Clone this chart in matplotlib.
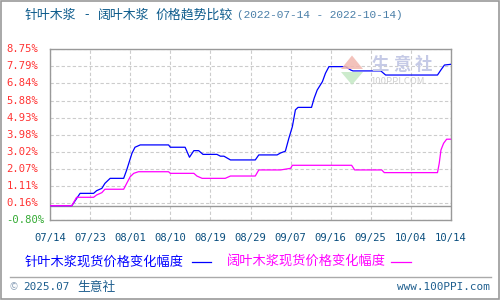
import matplotlib
matplotlib.use("Agg")
import matplotlib.pyplot as plt
from matplotlib.patches import Polygon, Rectangle

plt.rcParams['font.family'] = ['Noto Sans CJK SC', 'DejaVu Sans']

# Days since 2022-07-14 and percent change of spot price
needle_days = [0, 5, 6.9, 10, 10.7, 11.9, 12.6, 13.8, 16.9, 17.6, 18.8, 19.5, 20.7,
               27.2, 27.6, 31, 32, 33, 34.1, 35.1, 38.3, 39.1, 39.9, 41.4, 47.1,
               47.9, 52.1, 52.9, 54, 54.8, 55.6, 56.3, 56.9, 60, 60.6, 61.3, 62.5,
               63.2, 64, 67.8, 69, 69.5, 75.9, 77, 88.9, 89.7, 90.5, 92]
needle_vals = [0, 0, 0.69, 0.69, 0.84, 0.97, 1.25, 1.53, 1.53, 2.0, 2.93, 3.27, 3.40,
               3.40, 3.27, 3.27, 2.71, 3.08, 3.08, 2.87, 2.87, 2.77, 2.77, 2.56, 2.56,
               2.84, 2.84, 2.95, 3.05, 3.77, 4.42, 5.36, 5.50, 5.50, 6.01, 6.47, 6.94,
               7.41, 7.78, 7.78, 7.59, 7.54, 7.54, 7.31, 7.31, 7.60, 7.87, 7.91]

broad_days = [0, 5, 6.1, 10, 10.7, 11.9, 12.6, 16.9, 17.6, 18.4, 19.2, 20.3, 27.2,
              27.6, 33, 33.7, 34.9, 40.2, 41.4, 47.1, 47.9, 52.9, 55.2, 55.6, 69.2,
              69.9, 76.1, 76.7, 88.9, 89.3, 89.7, 90.3, 91, 92]
broad_vals = [0, 0, 0.47, 0.47, 0.60, 0.73, 0.92, 0.92, 1.25, 1.62, 1.81, 1.90, 1.90,
              1.81, 1.81, 1.66, 1.53, 1.53, 1.66, 1.66, 2.00, 2.00, 2.09, 2.26, 2.26,
              2.00, 2.00, 1.85, 1.85, 2.37, 3.12, 3.49, 3.72, 3.72]

y_ticks = [-0.80, 0.16, 1.11, 2.07, 3.02, 3.98, 4.93, 5.88, 6.84, 7.79, 8.75]
x_labels = ['07/14', '07/23', '08/01', '08/10', '08/19', '08/29',
            '09/07', '09/16', '09/25', '10/04', '10/14']

fig = plt.figure(figsize=(5, 3), dpi=100)
ax = fig.add_axes([0.100, 0.2667, 0.802, 0.5690])

ax.plot(needle_days, needle_vals, color='#0000ff', lw=0.9, zorder=3)
ax.plot(broad_days, broad_vals, color='#ff00ff', lw=0.9, zorder=3)
ax.axhline(0, color='#999999', lw=1.0, zorder=2)

ax.set_xlim(0, 92)
ax.set_ylim(-0.80, 8.75)
x_ticks = [92 * i / 10 for i in range(11)]
ax.set_xticks(x_ticks)
ax.set_xticklabels([])
ax.set_yticks(y_ticks)
ax.set_yticklabels([])
ax.tick_params(length=0)
ax.grid(True, color='#cccccc', ls=(0, (3, 2)), lw=0.8)
for s in ax.spines.values():
    s.set_color('#999999')
    s.set_linewidth(1.0)

# y tick labels, left-aligned near the edge
for v in y_ticks:
    c = '#33aa33' if v < 0 else '#ff3333'
    ax.text(-0.0875 / 0.802, v, f'{v:.2f}%', transform=ax.get_yaxis_transform(),
            ha='left', va='center', fontsize=7.6, color=c, family='DejaVu Sans Mono')

for xt, lab in zip(x_ticks, x_labels):
    ax.text(xt, -0.8 - 1.0, lab, ha='center', va='center', fontsize=7.6,
            color='#0b4f7f', family='DejaVu Sans Mono', clip_on=False)

# title
title_color = '#0d5b8c'
fig.text(0.050, 0.950, '针叶木浆', fontsize=9.3, color=title_color, va='center')
fig.text(0.168, 0.950, '-', fontsize=9.3, color=title_color, va='center')
fig.text(0.196, 0.950, '阔叶木浆', fontsize=9.3, color=title_color, va='center')
fig.text(0.311, 0.950, '价格趋势比较', fontsize=9.3, color=title_color, va='center')
fig.text(0.474, 0.950, '(2022-07-14 - 2022-10-14)', fontsize=8.0,
         color='#4a7fa8', va='center', ha='left', family='Liberation Mono')

# legend
fig.text(0.05, 0.127, '针叶木浆现货价格变化幅度', fontsize=9.5,
         color='#0000ff', va='center', ha='left')
fig.add_artist(plt.Line2D([0.384, 0.422], [0.127, 0.127], color='#0000ff', lw=0.9))
fig.text(0.454, 0.127, '阔叶木浆现货价格变化幅度', fontsize=9.5,
         color='#ff00ff', va='center', ha='left')
fig.add_artist(plt.Line2D([0.782, 0.822], [0.127, 0.127], color='#ff00ff', lw=0.9))

# footer
fig.add_artist(plt.Line2D([0.02, 0.982], [0.078, 0.078], color='#aaaaaa', lw=1.0))
fig.text(0.02, 0.043, '©', fontsize=7.0, color='#8aa0b8', va='center', ha='left')
fig.text(0.046, 0.043, '2025.07', fontsize=7.9, color='#1f5f8f',
         va='center', ha='left', family='DejaVu Sans Mono')
fig.text(0.154, 0.043, '生意社', fontsize=9.2, color='#1f5f8f',
         va='center', ha='left')
fig.text(0.980, 0.043, 'www.100PPI.com', fontsize=7.9, color='#1f5f8f',
         va='center', ha='right', family='DejaVu Sans Mono')

# watermark
fig.add_artist(Polygon([[0.682, 0.770], [0.704, 0.815], [0.726, 0.770]],
                       closed=True, color='#f2b8b0', alpha=0.85, lw=0))
fig.add_artist(Polygon([[0.682, 0.760], [0.704, 0.717], [0.726, 0.760]],
                       closed=True, color='#c4e8c4', alpha=0.85, lw=0))
for xw, ch in zip([0.742, 0.786, 0.829], '生意社'):
    fig.text(xw, 0.782, ch, fontsize=12.5, color='#c5cae6', va='center',
             ha='left', fontweight='bold')
fig.text(0.740, 0.730, '100PPI.COM', fontsize=6.8, color='#d0d0d0', va='center',
         ha='left')

fig.add_artist(Rectangle((0.001, 0.002), 0.997, 0.995, transform=fig.transFigure,
                         fill=False, ec='#999999', lw=1.2))

fig.savefig('out.png', dpi=100)
